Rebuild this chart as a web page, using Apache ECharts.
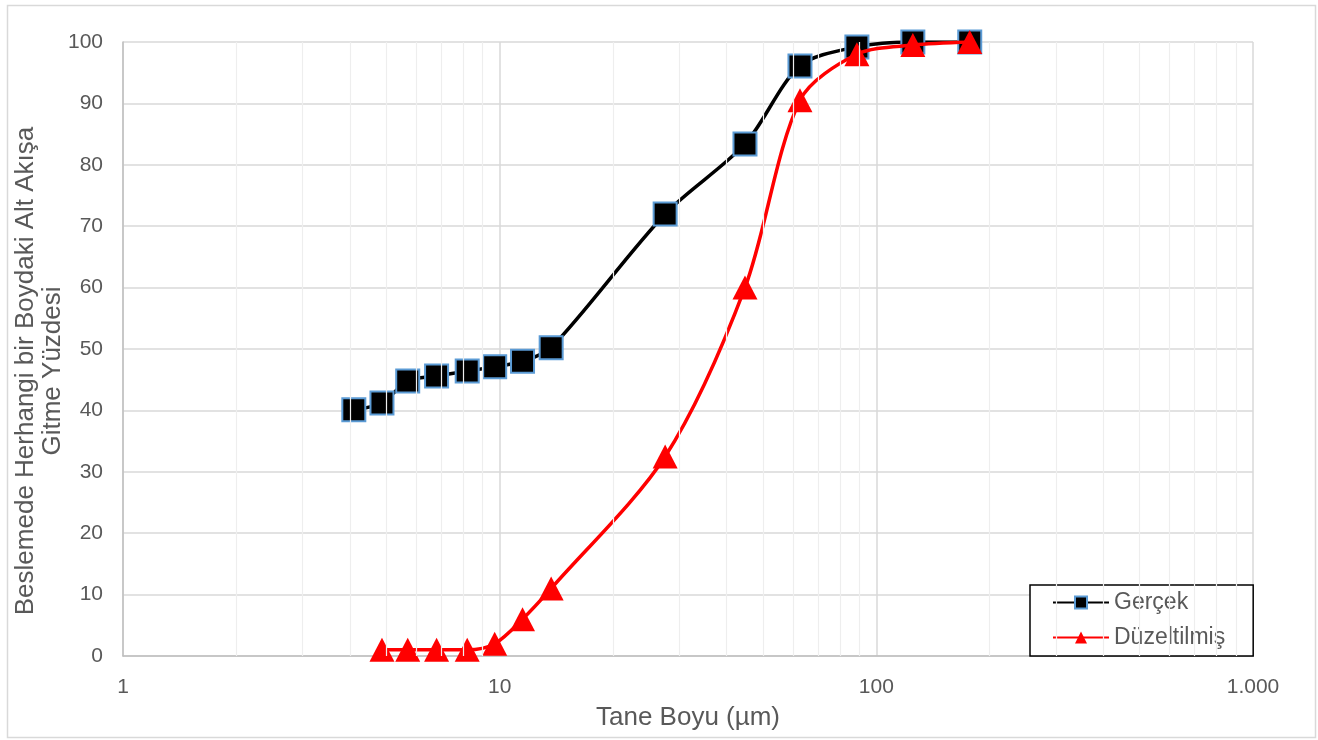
<!DOCTYPE html>
<html>
<head>
<meta charset="utf-8">
<script src="https://cdn.jsdelivr.net/npm/echarts@6/dist/echarts.min.js"></script>
<style>
  html, body { margin: 0; padding: 0; background: #ffffff; }
  #chart { width: 1318px; height: 740px; }
</style>
</head>
<body>
<div id="chart"></div>
<script>
// Particle sizes (µm) and cumulative passing percentages
const sizeGercek = [4.1, 4.87, 5.7, 6.8, 8.2, 9.7, 11.5, 13.7, 27.5, 44.8, 62.7, 88.8, 125, 177];
const gercek     = [40.1, 41.2, 44.8, 45.6, 46.4, 47.1, 48.0, 50.2, 72.0, 83.4, 96.1, 99.2, 100, 100];

const sizeDuzeltilmis = [4.87, 5.7, 6.8, 8.2, 9.7, 11.5, 13.7, 27.5, 44.8, 62.7, 88.8, 125, 177];
const duzeltilmis     = [1, 1, 1, 1, 2, 6, 11, 32.5, 60, 90.5, 98, 99.5, 100];

// Minor vertical gridlines inside each decade of the log axis
const minorX = [2, 3, 4, 5, 6, 7, 8, 9, 20, 30, 40, 50, 60, 70, 80, 90, 200, 300, 400, 500, 600, 700, 800, 900];

const seriesNames = ['Gerçek', 'Düzeltilmiş'];
const xTitle = 'Tane Boyu (µm)';
const yTitle = 'Beslemede Herhangi bir Boydaki Alt Akışa\nGitme Yüzdesi';

const pair = (xs, ys) => xs.map((x, i) => [x, ys[i]]);
const font = '"Liberation Sans", Arial, sans-serif';

const chart = echarts.init(document.getElementById('chart'), null, { renderer: 'canvas' });

chart.setOption({
  animation: false,
  backgroundColor: '#ffffff',
  textStyle: { fontFamily: font },
  graphic: [{
    type: 'rect',
    left: 5, top: 3,
    shape: { width: 1308, height: 732 },
    style: { fill: 'none', stroke: '#d9d9d9', lineWidth: 1.5 },
    silent: true, z: -10
  }],
  grid: { left: 123, right: 65, top: 42, bottom: 84, containLabel: false, outerBoundsMode: 'none' },
  legend: {
    data: seriesNames,
    orient: 'vertical',
    left: 1030, top: 585,
    padding: [6, 28, 7, 22],
    itemGap: 12,
    itemWidth: 56,
    itemHeight: 15,
    backgroundColor: '#ffffff',
    borderColor: '#000000',
    borderWidth: 1.5,
    borderRadius: 0,
    textStyle: { fontSize: 23, color: '#595959', fontFamily: font }
  },
  xAxis: {
    type: 'log',
    logBase: 10,
    min: 1, max: 1000,
    name: xTitle,
    nameLocation: 'middle',
    nameGap: 49,
    nameMoveOverlap: false,
    nameTextStyle: { fontSize: 26, color: '#595959', fontFamily: font },
    axisLine: { show: true, lineStyle: { color: '#bfbfbf', width: 1.5 } },
    axisTick: { show: false },
    axisLabel: {
      fontSize: 21, color: '#595959', margin: 21, fontFamily: font,
      formatter: v => (v >= 1000 ? '1.000' : String(Math.round(v)))
    },
    splitLine: { show: true, lineStyle: { color: '#d9d9d9', width: 1.5 } }
  },
  yAxis: {
    type: 'value',
    min: 0, max: 100, interval: 10,
    name: yTitle,
    nameLocation: 'middle',
    nameGap: 57,
    nameMoveOverlap: false,
    nameTextStyle: {
      fontSize: 26, color: '#595959', fontFamily: font,
      lineHeight: 27, align: 'center', padding: [0, 44, 0, 0]
    },
    axisLine: { show: true, lineStyle: { color: '#bfbfbf', width: 1.5 } },
    axisTick: { show: false },
    axisLabel: { fontSize: 21, color: '#595959', margin: 20, fontFamily: font },
    splitLine: { show: true, lineStyle: { color: '#d9d9d9', width: 1.5 } }
  },
  series: [
    {
      name: 'minor-grid',
      type: 'line',
      data: [],
      z: 0,
      silent: true,
      markLine: {
        silent: true,
        symbol: ['none', 'none'],
        label: { show: false },
        lineStyle: { color: '#eeeeee', width: 1.2, type: 'solid' },
        data: minorX.map(v => ({ xAxis: v }))
      }
    },
    {
      name: seriesNames[0],
      type: 'line',
      data: pair(sizeGercek, gercek),
      smooth: 0.3,
      z: 3,
      symbol: 'rect',
      symbolSize: 23,
      lineStyle: { color: '#000000', width: 3.5 },
      itemStyle: { color: '#000000', borderColor: '#5b9bd5', borderWidth: 2 }
    },
    {
      name: seriesNames[1],
      type: 'line',
      data: pair(sizeDuzeltilmis, duzeltilmis),
      smooth: 0.3,
      z: 4,
      symbol: 'triangle',
      symbolSize: [25, 24],
      lineStyle: { color: '#ff0000', width: 3.5 },
      itemStyle: { color: '#ff0000', borderWidth: 0 }
    }
  ]
});
</script>
</body>
</html>
